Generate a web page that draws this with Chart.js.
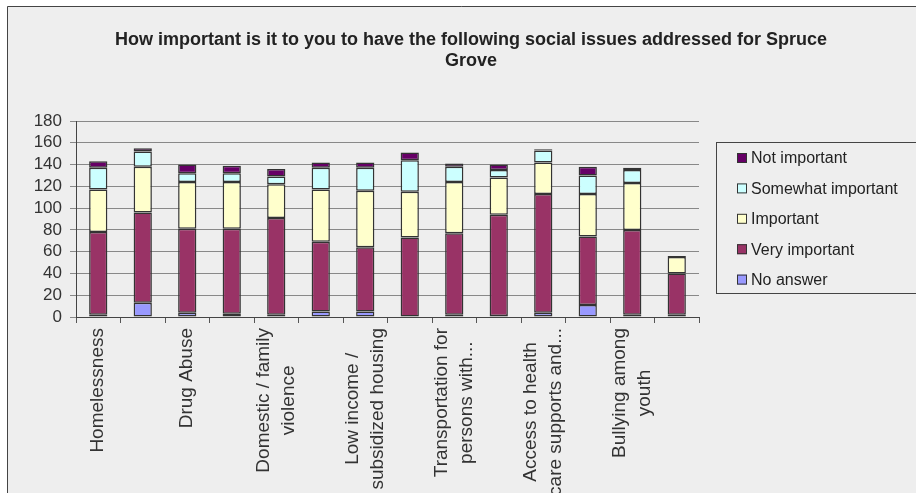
<!DOCTYPE html>
<html>
<head>
<meta charset="utf-8">
<script src="https://cdn.jsdelivr.net/npm/chart.js@4.4.1/dist/chart.umd.min.js"></script>
<style>
  body { margin: 0; background: #ffffff; }
  #wrap { width: 916px; height: 493px; }
</style>
</head>
<body>
<div id="wrap"><canvas id="issuesChart"></canvas></div>
<script>
// Social issues survey - stacked columns

var chartTitle = ['How important is it to you to have the following social issues addressed for Spruce', 'Grove'];

var categories = [
  'Homelessness', '', 'Drug Abuse', '', 'Domestic / family violence', '',
  'Low income / subsidized housing', '', 'Transportation for persons with...', '',
  'Access to health care supports and...', '', 'Bullying among youth', ''
];
// label lines as they wrap under the axis
var tickLines = [
  ['Homelessness'], [], ['Drug Abuse'], [], ['Domestic / family', 'violence'], [],
  ['Low income /', 'subsidized housing'], [], ['Transportation for', 'persons with...'], [],
  ['Access to health', 'care supports and...'], [], ['Bullying among', 'youth'], []
];

var noAnswer      = [2, 13, 4, 3, 2, 5, 5, 0, 2, 1, 4, 11, 2, 2];
var veryImportant = [76, 83, 77, 78, 89, 64, 59, 73, 75, 93, 109, 63, 78, 38];
var important     = [39, 42, 43, 43, 31, 48, 52, 42, 47, 34, 29, 39, 43, 15];
var somewhat      = [20, 14, 8, 8, 7, 20, 21, 29, 14, 7, 11, 17, 12, 1];
var notImportant  = [6, 3, 8, 7, 7, 5, 5, 7, 3, 5, 1, 8, 2, 0];

var yTicks = [0, 20, 40, 60, 80, 100, 120, 140, 160, 180];

var FONT = "'Liberation Sans', Arial, sans-serif";

function ds(label, data, color) {
  return {
    label: label,
    data: data,
    backgroundColor: color,
    borderColor: '#333333',
    borderWidth: 1.5,
    borderSkipped: false,
    barPercentage: 0.41,
    categoryPercentage: 1
  };
}

// background, frame and title
var framePlugin = {
  id: 'frame',
  beforeDraw: function (chart) {
    var c = chart.ctx;
    c.save();
    c.fillStyle = '#ffffff';
    c.fillRect(0, 0, chart.width, chart.height);
    c.fillStyle = '#eeeeee';
    c.fillRect(7, 6, chart.width, chart.height);
    c.strokeStyle = '#444444';
    c.lineWidth = 1;
    c.beginPath();
    c.moveTo(7.5, chart.height);
    c.lineTo(7.5, 6.5);
    c.lineTo(chart.width, 6.5);
    c.stroke();

    c.font = 'bold 18px ' + FONT;
    c.fillStyle = '#222222';
    c.textAlign = 'center';
    c.textBaseline = 'middle';
    chartTitle.forEach(function (t, i) {
      c.fillText(t, 471, 40 + i * 21);
    });
    c.restore();
  }
};

// rotated, centred category labels + boxed legend
var labelPlugin = {
  id: 'labels',
  afterDraw: function (chart) {
    var c = chart.ctx;
    var xs = chart.scales.x;
    var base = chart.chartArea.bottom + 11;
    c.save();
    c.font = '19px ' + FONT;
    c.fillStyle = '#333333';
    c.textAlign = 'center';
    c.textBaseline = 'middle';
    tickLines.forEach(function (lines, i) {
      if (!lines.length) return;
      var x = xs.getPixelForTick(i);
      var maxW = 0;
      lines.forEach(function (l) { maxW = Math.max(maxW, c.measureText(l).width); });
      c.save();
      c.translate(x, base + maxW / 2);
      c.rotate(-Math.PI / 2);
      lines.forEach(function (l, j) {
        c.fillText(l, 0, (j - (lines.length - 1) / 2) * 25);
      });
      c.restore();
    });

    // legend
    c.strokeStyle = '#444444';
    c.lineWidth = 1;
    c.strokeRect(716.5, 142.5, 220, 151);
    c.font = '16px ' + FONT;
    c.textAlign = 'left';
    var sets = chart.data.datasets.slice().reverse();
    sets.forEach(function (d, k) {
      var y = 158 + k * 30.4;
      c.fillStyle = d.backgroundColor;
      c.fillRect(737, y - 5, 10, 10);
      c.strokeStyle = '#333333';
      c.strokeRect(737.5, y - 4.5, 9, 9);
      c.fillStyle = '#222222';
      c.fillText(d.label, 751, y + 1);
    });
    c.restore();
  }
};

var ctx = document.getElementById('issuesChart').getContext('2d');
var chart = new Chart(ctx, {
  type: 'bar',
  plugins: [framePlugin, labelPlugin],
  data: {
    labels: categories,
    datasets: [
      ds('No answer', noAnswer, '#9999FF'),
      ds('Very important', veryImportant, '#993366'),
      ds('Important', important, '#FFFFCC'),
      ds('Somewhat important', somewhat, '#CCFFFF'),
      ds('Not important', notImportant, '#660066')
    ]
  },
  options: {
    responsive: true,
    maintainAspectRatio: false,
    animation: false,
    layout: { padding: { top: 121, left: 0, right: 217, bottom: 0 } },
    plugins: {
      legend: { display: false },
      tooltip: { enabled: false },
      title: { display: false }
    },
    scales: {
      x: {
        stacked: true,
        grid: { drawOnChartArea: false, drawTicks: true, tickLength: 6, color: '#555555' },
        border: { color: '#444444', width: 1 },
        ticks: { display: false },
        afterFit: function (s) { s.height = 176; }
      },
      y: {
        stacked: true,
        min: 0,
        max: 180,
        afterBuildTicks: function (s) { s.ticks = yTicks.map(function (v) { return { value: v }; }); },
        grid: { color: '#888888', tickLength: 6 },
        border: { color: '#444444', width: 1 },
        ticks: { font: { family: FONT, size: 17 }, color: '#333333', padding: 8, autoSkip: false },
        afterFit: function (s) { s.width = 76; }
      }
    }
  }
});
</script>
</body>
</html>
